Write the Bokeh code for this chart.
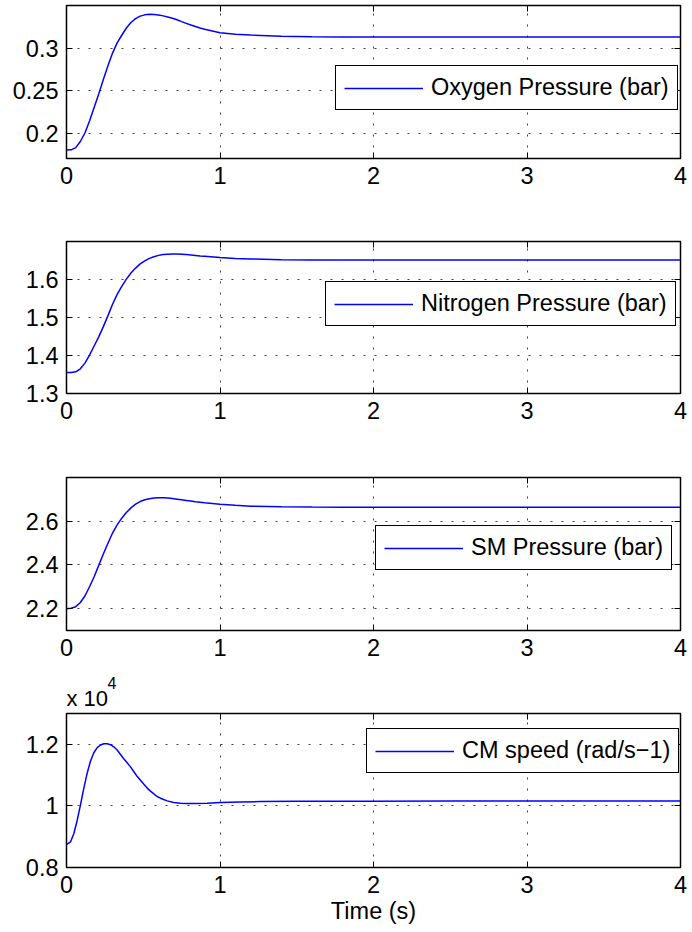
from bokeh.plotting import figure
from bokeh.layouts import column
from bokeh.models import (FixedTicker, LinearAxis, Legend, LegendItem,
                          Range1d, NumeralTickFormatter, Title)
from bokeh.core.properties import value
from bokeh.embed import file_html
from bokeh.resources import INLINE

# ---------------- data ----------------
time_p = [0, 0.03, 0.06, 0.09, 0.12, 0.15, 0.18, 0.21, 0.24, 0.27, 0.30, 0.33,
          0.36, 0.39, 0.42, 0.45, 0.48, 0.51, 0.54, 0.57, 0.60, 0.63, 0.66,
          0.69, 0.72, 0.75, 0.78, 0.81, 0.84, 0.87, 0.90, 1.0, 1.1, 1.2, 1.4,
          1.6, 1.8, 2.0, 2.5, 3.0, 3.5, 4.0]

oxygen_bar = [0.1800, 0.1802, 0.1828, 0.1900, 0.2000, 0.2140, 0.2300, 0.2460,
              0.2630, 0.2790, 0.2940, 0.3060, 0.3150, 0.3235, 0.3300, 0.3345,
              0.3375, 0.3390, 0.3396, 0.3395, 0.3388, 0.3378, 0.3365, 0.3350,
              0.3332, 0.3310, 0.3290, 0.3270, 0.3252, 0.3235, 0.3220, 0.3180,
              0.3163, 0.3153, 0.3138, 0.3132, 0.3130, 0.3130, 0.3130, 0.3130,
              0.3130, 0.3130]

nitrogen_bar = [1.3550, 1.3552, 1.3570, 1.3650, 1.3800, 1.4010, 1.4250,
                1.4490, 1.4760, 1.5050, 1.5350, 1.5610, 1.5820, 1.6010,
                1.6170, 1.6300, 1.6410, 1.6490, 1.6555, 1.6600, 1.6635,
                1.6655, 1.6665, 1.6670, 1.6668, 1.6662, 1.6655, 1.6645,
                1.6633, 1.6620, 1.6610, 1.6577, 1.6555, 1.6540, 1.6520,
                1.6515, 1.6512, 1.6510, 1.6510, 1.6510, 1.6510, 1.6510]

sm_bar = [2.200, 2.202, 2.209, 2.228, 2.258, 2.300, 2.346, 2.398, 2.450, 2.499,
          2.546, 2.583, 2.614, 2.640, 2.661, 2.678, 2.690, 2.698, 2.703, 2.706,
          2.7075, 2.7075, 2.7062, 2.704, 2.701, 2.698, 2.695, 2.692, 2.689,
          2.6865, 2.684, 2.678, 2.673, 2.669, 2.666, 2.6645, 2.6642, 2.664,
          2.664, 2.664, 2.664, 2.664]

time_cm = [0, 0.026, 0.048, 0.07, 0.091, 0.113, 0.135, 0.156, 0.178, 0.2,
           0.222, 0.243, 0.265, 0.287, 0.308, 0.33, 0.352, 0.373, 0.395, 0.417,
           0.439, 0.46, 0.482, 0.504, 0.526, 0.547, 0.569, 0.59, 0.612, 0.656,
           0.699, 0.743, 0.786, 0.83, 0.916, 1.003, 1.133, 1.264, 1.5, 2.0,
           2.5, 3.0, 3.5, 4.0]

cm_speed = [8742, 8830, 9103, 9540, 10032, 10578, 11070, 11450, 11726, 11890,
            11977, 12020, 12020, 11988, 11920, 11813, 11670, 11530, 11400,
            11267, 11110, 10960, 10830, 10700, 10578, 10480, 10390, 10305,
            10250, 10163, 10108, 10086, 10075, 10075, 10086, 10108, 10130,
            10140, 10150, 10155, 10158, 10160, 10160, 10160]

series_names = ["Oxygen Pressure (bar)", "Nitrogen Pressure (bar)",
                "SM Pressure (bar)", "CM speed (rad/s\u22121)"]
x_ticks = [0, 1, 2, 3, 4]
y_ranges = [(0.17, 0.35), (1.3, 1.7), (2.1, 2.8), (8000, 13000)]
y_ticks = [[0.2, 0.25, 0.3], [1.3, 1.4, 1.5, 1.6], [2.2, 2.4, 2.6],
           [8000, 10000, 12000]]
cm_tick_labels = {8000: "0.8", 10000: "1", 12000: "1.2"}
x_label = "Time (s)"
exponent_base = "x 10"
exponent_power = "4"

FONT = "Liberation Sans"
FS = "23.5px"
BLUE = "#0000ff"

# layout: (height, border_top, frame height, legend location)
layout = [
    (200, 5, 153, (269, 48)),
    (236, 41, 152, (259, 67)),
    (236, 41, 153, (309, 60)),
    (258, 41, 154, (300, 94)),
]


def make_panel(i, xs, values):
    height, btop, fh, loc = layout[i]
    y0, y1 = y_ranges[i]
    p = figure(width=692, height=height, x_range=Range1d(0, 4),
               y_range=Range1d(y0, y1), output_backend="svg",
               toolbar_location=None, min_border_left=66,
               min_border_right=12, min_border_top=btop,
               min_border_bottom=height - btop - fh)
    p.background_fill_color = "white"
    p.border_fill_color = "white"
    p.outline_line_color = "black"
    p.outline_line_width = 1.5

    r = p.line(xs, values, line_color=BLUE, line_width=1.5)

    xax = p.below[0]
    yax = p.left[0]
    for ax in (xax, yax):
        ax.axis_line_color = None
        ax.major_tick_in = 6
        ax.major_tick_out = 0
        ax.major_tick_line_color = "black"
        ax.minor_tick_line_color = None
        ax.major_label_text_font = FONT
        ax.major_label_text_font_size = FS
        ax.major_label_text_color = "black"
        ax.major_label_standoff = 8
    xax.ticker = FixedTicker(ticks=x_ticks)
    yax.ticker = FixedTicker(ticks=y_ticks[i])
    if i == 3:
        yax.major_label_overrides = cm_tick_labels
    else:
        yax.formatter = NumeralTickFormatter(format="0.[00]")

    # ticks on top and right (no labels)
    for side, ticks in (("above", x_ticks), ("right", y_ticks[i])):
        ax = LinearAxis(ticker=FixedTicker(ticks=ticks),
                        major_label_text_font_size="0px",
                        major_label_standoff=0, major_tick_in=6,
                        major_tick_out=0, minor_tick_line_color=None,
                        axis_line_color=None, major_tick_line_color="black")
        p.add_layout(ax, side)

    p.xgrid.ticker = FixedTicker(ticks=x_ticks)
    p.ygrid.ticker = FixedTicker(ticks=y_ticks[i])
    for g in (p.xgrid, p.ygrid):
        g.grid_line_color = "black"
        g.grid_line_alpha = 0.75
        g.grid_line_width = 1
        g.grid_line_dash = "2 9"

    legend = Legend(items=[LegendItem(label=value(series_names[i]),
                                      renderers=[r])],
                    location=loc, glyph_width=79, glyph_height=20,
                    label_standoff=8, padding=8, spacing=0, margin=0,
                    border_line_color="black", border_line_width=1,
                    border_line_alpha=1,
                    background_fill_color="white", background_fill_alpha=1,
                    label_text_font=FONT, label_text_font_size=FS,
                    label_text_color="black")
    p.add_layout(legend)
    return p


panels = [make_panel(0, time_p, oxygen_bar),
          make_panel(1, time_p, nitrogen_bar),
          make_panel(2, time_p, sm_bar),
          make_panel(3, time_cm, cm_speed)]

p4 = panels[3]
# "x 10" right above the frame, the exponent "4" as outer title
base_title = Title(text=exponent_base, align="left", text_font=FONT,
                   text_font_size="22px", text_font_style="normal",
                   text_color="black", standoff=5, offset=0)
p4.add_layout(base_title, "above")
try:
    p4.title = Title(text=exponent_power, align="left", text_font=FONT,
                     text_font_size="16px", text_font_style="normal",
                     text_color="black", standoff=-15, offset=41)
except ValueError:
    base_title.text = exponent_base + "\u2074"

bx = p4.below[0]
bx.axis_label = x_label
bx.axis_label_text_font = FONT
bx.axis_label_text_font_size = FS
bx.axis_label_text_font_style = "normal"
bx.axis_label_text_color = "black"
bx.axis_label_standoff = 2

layout_root = column(*panels, spacing=0)

open("out.html", "w").write(file_html(layout_root, INLINE))
